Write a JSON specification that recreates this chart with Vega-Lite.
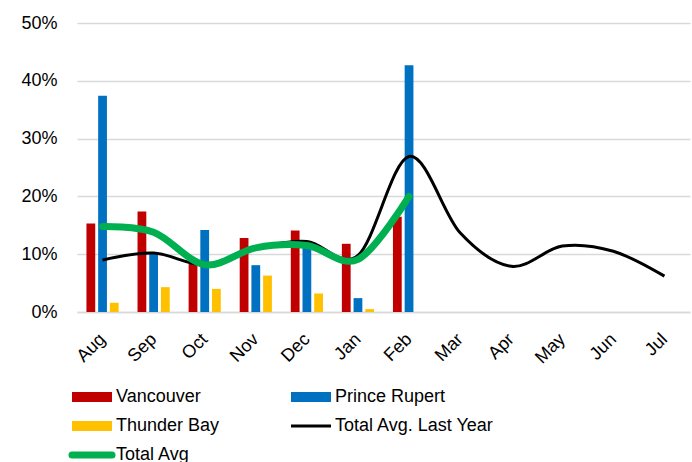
{
  "$schema": "https://vega.github.io/schema/vega-lite/v6.json",
  "autosize": {"type": "none"},
  "width": 613,
  "height": 289,
  "padding": {"left": 77, "top": 23, "right": 2, "bottom": 150},
  "background": "white",
  "config": {
    "view": {"stroke": null},
    "font": "Liberation Sans",
    "axis": {"labelFont": "Liberation Sans", "labelColor": "#000000"}
  },
  "datasets": {
    "bars": [
      {"month": "Aug", "series": "Vancouver", "value": 0.153},
      {"month": "Aug", "series": "Prince Rupert", "value": 0.374},
      {"month": "Aug", "series": "Thunder Bay", "value": 0.016},
      {"month": "Sep", "series": "Vancouver", "value": 0.174},
      {"month": "Sep", "series": "Prince Rupert", "value": 0.102},
      {"month": "Sep", "series": "Thunder Bay", "value": 0.043},
      {"month": "Oct", "series": "Vancouver", "value": 0.085},
      {"month": "Oct", "series": "Prince Rupert", "value": 0.142},
      {"month": "Oct", "series": "Thunder Bay", "value": 0.040},
      {"month": "Nov", "series": "Vancouver", "value": 0.128},
      {"month": "Nov", "series": "Prince Rupert", "value": 0.081},
      {"month": "Nov", "series": "Thunder Bay", "value": 0.063},
      {"month": "Dec", "series": "Vancouver", "value": 0.141},
      {"month": "Dec", "series": "Prince Rupert", "value": 0.115},
      {"month": "Dec", "series": "Thunder Bay", "value": 0.032},
      {"month": "Jan", "series": "Vancouver", "value": 0.118},
      {"month": "Jan", "series": "Prince Rupert", "value": 0.024},
      {"month": "Jan", "series": "Thunder Bay", "value": 0.005},
      {"month": "Feb", "series": "Vancouver", "value": 0.165},
      {"month": "Feb", "series": "Prince Rupert", "value": 0.427}
    ],
    "lastYear": [
      {"month": "Aug", "series": "Total Avg. Last Year", "value": 0.090},
      {"month": "Sep", "series": "Total Avg. Last Year", "value": 0.102},
      {"month": "Oct", "series": "Total Avg. Last Year", "value": 0.082},
      {"month": "Nov", "series": "Total Avg. Last Year", "value": 0.110},
      {"month": "Dec", "series": "Total Avg. Last Year", "value": 0.122},
      {"month": "Jan", "series": "Total Avg. Last Year", "value": 0.098},
      {"month": "Feb", "series": "Total Avg. Last Year", "value": 0.269},
      {"month": "Mar", "series": "Total Avg. Last Year", "value": 0.137},
      {"month": "Apr", "series": "Total Avg. Last Year", "value": 0.079},
      {"month": "May", "series": "Total Avg. Last Year", "value": 0.114},
      {"month": "Jun", "series": "Total Avg. Last Year", "value": 0.105},
      {"month": "Jul", "series": "Total Avg. Last Year", "value": 0.062}
    ],
    "totalAvg": [
      {"month": "Aug", "series": "Total Avg", "value": 0.148},
      {"month": "Sep", "series": "Total Avg", "value": 0.138},
      {"month": "Oct", "series": "Total Avg", "value": 0.082},
      {"month": "Nov", "series": "Total Avg", "value": 0.111},
      {"month": "Dec", "series": "Total Avg", "value": 0.115},
      {"month": "Jan", "series": "Total Avg", "value": 0.091},
      {"month": "Feb", "series": "Total Avg", "value": 0.200}
    ]
  },
  "encoding": {
    "x": {
      "field": "month",
      "type": "nominal",
      "sort": ["Aug", "Sep", "Oct", "Nov", "Dec", "Jan", "Feb", "Mar", "Apr", "May", "Jun", "Jul"],
      "scale": {"domain": ["Aug", "Sep", "Oct", "Nov", "Dec", "Jan", "Feb", "Mar", "Apr", "May", "Jun", "Jul"], "paddingInner": 0.37, "paddingOuter": 0.185},
      "axis": {
        "title": null,
        "labelAngle": -45,
        "labelFontSize": 18,
        "labelPadding": 18,
        "labelOffset": -6,
        "ticks": false,
        "domainColor": "#D9D9D9",
        "domainWidth": 1.5,
        "grid": false
      }
    },
    "y": {
      "field": "value",
      "type": "quantitative",
      "scale": {"domain": [0, 0.5], "nice": false},
      "axis": {
        "title": null,
        "format": ".0%",
        "values": [0, 0.1, 0.2, 0.3, 0.4, 0.5],
        "labelFontSize": 18,
        "labelPadding": 20,
        "ticks": false,
        "domain": false,
        "gridColor": "#D9D9D9",
        "gridWidth": 1.3
      }
    },
    "color": {
      "field": "series",
      "type": "nominal",
      "scale": {
        "domain": ["Vancouver", "Prince Rupert", "Thunder Bay", "Total Avg. Last Year", "Total Avg"],
        "range": ["#C00000", "#0070C0", "#FFC000", "#000000", "#00B050"]
      },
      "legend": {
        "orient": "none",
        "direction": "horizontal",
        "legendX": 6,
        "legendY": 365,
        "columns": 2,
        "columnPadding": 51,
        "rowPadding": -12,
        "padding": 0,
        "title": null,
        "symbolType": "stroke",
        "symbolSize": 1600,
        "symbolStrokeWidth": 10,
        "labelFontSize": 18,
        "labelFont": "Liberation Sans",
        "labelColor": "#000000",
        "labelOffset": 15,
        "labelLimit": 300,
        "encode": {
          "symbols": {
            "update": {
              "stroke": {"scale": "color", "field": "value"},
              "strokeWidth": {"signal": "datum.value === 'Total Avg. Last Year' ? 3 : (datum.value === 'Total Avg' ? 7 : 10)"},
              "strokeCap": {"signal": "datum.value === 'Total Avg' ? 'round' : 'butt'"}
            }
          }
        }
      }
    }
  },
  "layer": [
    {
      "data": {"name": "bars"},
      "mark": {"type": "bar"},
      "encoding": {
        "xOffset": {
          "field": "series",
          "type": "nominal",
          "scale": {"domain": ["Vancouver", "Prince Rupert", "Thunder Bay"], "paddingInner": 0.25, "paddingOuter": 0}
        }
      }
    },
    {
      "data": {"name": "lastYear"},
      "mark": {"type": "line", "interpolate": "cardinal", "strokeWidth": 3},
      "encoding": {}
    },
    {
      "data": {"name": "totalAvg"},
      "mark": {"type": "line", "interpolate": "cardinal", "strokeWidth": 7, "strokeCap": "round"},
      "encoding": {}
    }
  ]
}
